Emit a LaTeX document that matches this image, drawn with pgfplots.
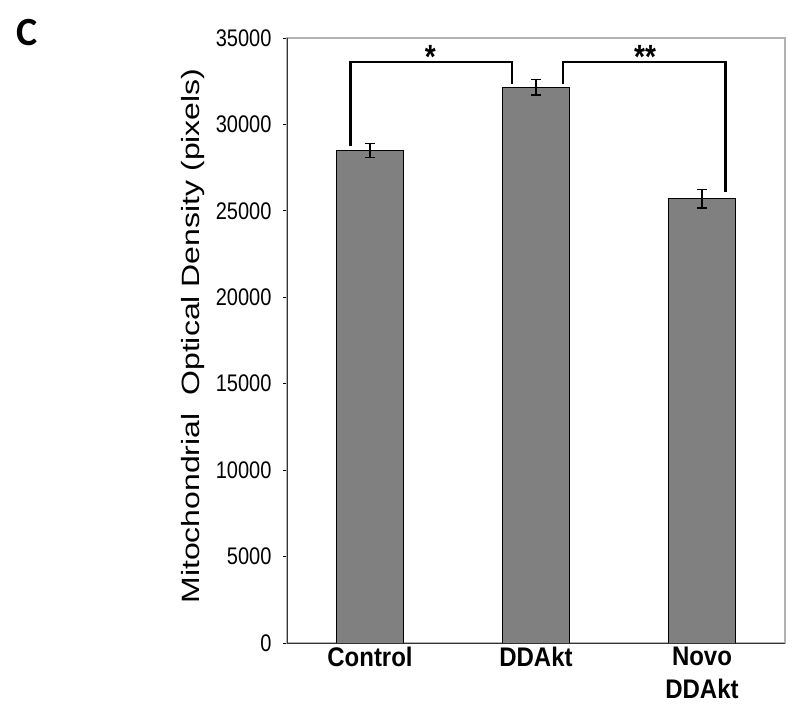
\documentclass[border=0pt]{standalone}
\usepackage{fontspec}
\setmainfont{Liberation Sans}
\newfontfamily\carlito{Carlito}
\usepackage{pgfplots}
\pgfplotsset{compat=1.18}
\newcommand{\vs}[1]{\scalebox{1}[1.2]{#1}}
\newcommand{\xs}[1]{\scalebox{1}[1.12]{#1}}
\begin{document}
\begin{tikzpicture}
\useasboundingbox (0pt,0pt) rectangle (800pt,716pt);
\node[font=\carlito\bfseries\fontsize{40}{40}\selectfont] at (27pt,683pt) {C};
\begin{axis}[at={(287pt,73pt)}, anchor=south west, scale only axis,
  width=498pt, height=605pt,
  xmin=-0.5, xmax=2.5, ymin=0, ymax=35000,
  xtick={0,1,2}, xticklabels={\xs{Control}, \xs{DDAkt}, {\xs{Novo}\\\xs{DDAkt}}},
  xticklabel style={font=\bfseries\fontsize{24}{33}\selectfont, align=center},
  major x tick style={draw=none},
  ytick={0,5000,...,35000}, ytick pos=left,
  ytick align=outside, major tick length=4pt,
  ytick style={black, line width=0.8pt},
  yticklabel={\vs{\pgfmathprintnumber{\tick}}},
  yticklabel style={font=\fontsize{20}{22}\selectfont, xshift=-8pt},
  /pgf/number format/assume math mode=true,
  /pgf/number format/1000 sep={},
  scaled y ticks=false,
  axis line style={draw=gray!60, line width=1.2pt},
  clip=false,
]
\addplot[ybar, bar width=0.4, fill=gray, draw=black, line width=1pt,
  error bars/.cd, y dir=both, y explicit,
  error bar style={line width=1.5pt, black},
  error mark options={rotate=90, mark size=5pt, line width=1.5pt, black}]
  coordinates {(0,28500) +- (0,400) (1,32150) +- (0,450) (2,25700) +- (0,530)};
\addplot[black, line width=2.5pt, line join=miter, mark=none]
  coordinates {(-0.117,28740) (-0.117,33609) (0.854,33609) (0.854,32334)};
\addplot[black, line width=2.5pt, line join=miter, mark=none]
  coordinates {(1.162,32334) (1.162,33609) (2.141,33609) (2.141,26076)};
\node[font=\bfseries\fontsize{28}{28}\selectfont, anchor=base] at (axis cs:0.363,33260) {\vs{*}};
\node[font=\bfseries\fontsize{28}{28}\selectfont, anchor=base] at (axis cs:1.657,33260) {\vs{**}};
\draw[black!80, line width=1pt] (rel axis cs:0,1) -- (rel axis cs:0,0) -- (rel axis cs:1,0);
\end{axis}
\node[rotate=90, font=\fontsize{25}{28}\selectfont] at (193pt,380pt) {\scalebox{1.28}[1]{Mitochondrial\ \ Optical Density (pixels)}};
\end{tikzpicture}
\end{document}
